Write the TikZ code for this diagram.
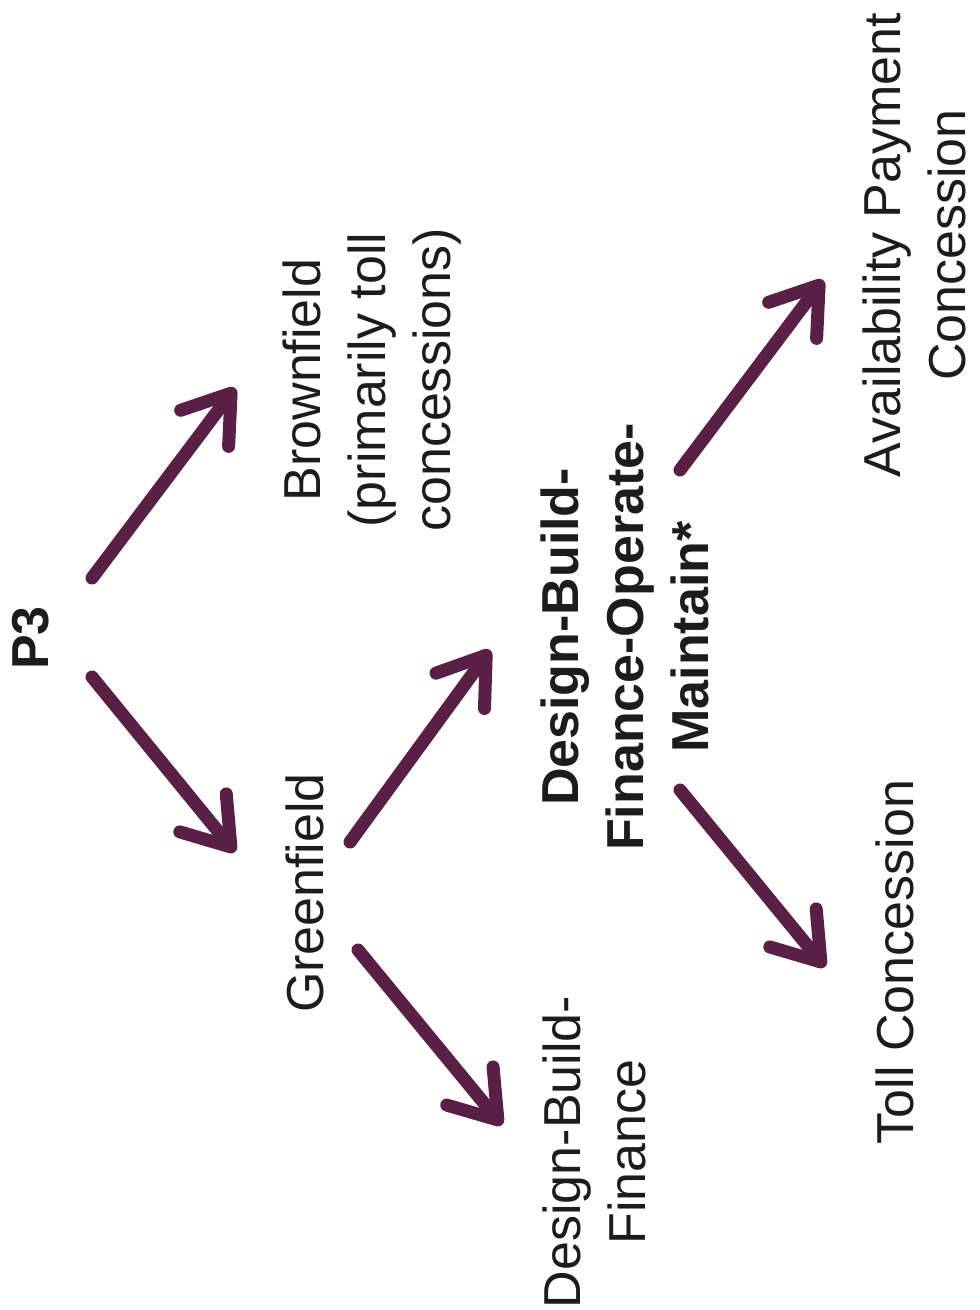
\documentclass[tikz,border=0pt]{standalone}
\usepackage{fontspec}
\setmainfont{Liberation Sans}
\usepackage{tikz}
\usetikzlibrary{arrows.meta}
\usepackage{xcolor}
\definecolor{plum}{HTML}{5A1F44}
\definecolor{ink}{HTML}{1C1C1C}

\begin{document}
\begin{tikzpicture}[x=0.5pt, y=-0.5pt,
    lbl/.style={rotate=90, align=center, text=ink, inner sep=0pt,
        font=\fontsize{26}{32.5}\selectfont},
    lblb/.style={lbl, font=\fontsize{26}{32.5}\selectfont\bfseries},
    flow/.style={draw=plum, line width=6.5pt, line cap=round,
        -{Straight Barb[length=22pt, width=30pt, round]}}]
    \useasboundingbox (0,0) rectangle (979,1310);
    \node[lblb] (p3) at (31,638) {P3};
    \node[lbl] (brown) at (372,380) {Brownfield\\(primarily toll\\concessions)};
    \node[lbl] (green) at (305,893) {Greenfield};
    \node[lblb] (dbfom) at (625,637) {Design-Build-\\Finance-Operate-\\Maintain*};
    \node[lbl] (dbf) at (594,1152) {Design-Build-\\Finance};
    \node[lbl] (toll) at (895,962) {Toll Concession};
    \node[lbl] (avail) at (914,245) {Availability Payment\\Concession};
    \draw[flow] ([shift={(61,-60)}]p3.center) -- ([shift={(-137,8)}]brown.center);
    \draw[flow] ([shift={(61,39)}]p3.center) -- ([shift={(-70,-41)}]green.center);
    \draw[flow] ([shift={(45,-51)}]green.center) -- ([shift={(-135,13)}]dbfom.center);
    \draw[flow] ([shift={(53,57)}]green.center) -- ([shift={(-92,-27)}]dbf.center);
    \draw[flow] ([shift={(55,-167)}]dbfom.center) -- ([shift={(-91,35)}]avail.center);
    \draw[flow] ([shift={(55,153)}]dbfom.center) -- ([shift={(-70,5)}]toll.center);
\end{tikzpicture}
\end{document}
